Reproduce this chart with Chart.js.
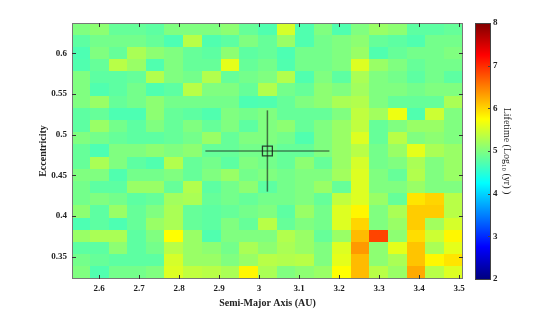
<!DOCTYPE html>
<html>
<head>
<meta charset="utf-8">
<script src="https://cdn.jsdelivr.net/npm/chart.js@4"></script>
<style>
  html, body { margin: 0; padding: 0; background: #fff; }
  #wrap { width: 556px; height: 314px; }
</style>
</head>
<body>
<div id="wrap"><canvas id="heat-map"></canvas></div>
<script>
// cell centres
var semiMajorAxis = [2.556, 2.602, 2.649, 2.695, 2.742, 2.788, 2.835, 2.881, 2.928, 2.975, 3.021,
                     3.068, 3.114, 3.161, 3.207, 3.254, 3.300, 3.347, 3.393, 3.440, 3.487];
var eccentricity = [0.63, 0.615, 0.60, 0.585, 0.57, 0.555, 0.54, 0.525, 0.51, 0.495, 0.48,
                    0.465, 0.45, 0.435, 0.42, 0.405, 0.39, 0.375, 0.36, 0.345, 0.33];
// log10 lifetime (yr), one row per eccentricity (top row first)
var lifetime = [
  [5.0, 5.08, 4.85, 4.85, 4.8, 5.0, 5.0, 5.0, 5.08, 4.85, 4.72, 5.5, 4.72, 5.0, 4.72, 5.0, 5.15, 5.08, 4.8, 4.8, 4.85],
  [4.8, 4.93, 4.93, 4.93, 4.85, 4.7, 5.33, 4.72, 4.8, 5.0, 4.85, 5.15, 4.72, 4.93, 5.0, 5.08, 4.85, 4.8, 4.72, 4.93, 4.93],
  [4.7, 5.0, 4.85, 5.25, 5.08, 5.0, 4.85, 4.8, 5.08, 4.8, 4.85, 4.7, 4.93, 4.93, 5.0, 5.15, 4.72, 4.85, 4.93, 4.93, 5.0],
  [4.72, 4.85, 5.33, 5.15, 4.72, 5.0, 4.85, 4.85, 5.6, 4.85, 4.93, 4.72, 4.93, 4.93, 5.0, 5.55, 5.15, 5.0, 4.85, 4.93, 4.93],
  [5.0, 4.8, 4.8, 4.85, 5.3, 5.0, 4.93, 5.3, 4.85, 4.93, 5.0, 5.3, 4.72, 5.0, 4.8, 5.25, 5.0, 4.93, 4.8, 4.93, 4.8],
  [5.0, 4.72, 4.8, 4.93, 4.72, 4.8, 5.33, 5.0, 5.0, 4.85, 5.3, 4.93, 4.85, 5.08, 5.0, 5.2, 5.0, 5.0, 4.93, 5.0, 5.0],
  [5.0, 5.15, 4.85, 4.93, 5.08, 4.93, 4.93, 4.93, 4.93, 4.7, 4.72, 4.85, 5.0, 5.08, 5.25, 5.3, 5.0, 4.85, 4.85, 4.85, 5.25],
  [4.8, 4.85, 4.7, 4.7, 5.08, 4.85, 4.8, 4.72, 5.0, 4.93, 5.0, 4.85, 4.85, 4.85, 5.0, 5.38, 5.2, 5.65, 4.72, 5.45, 5.0],
  [4.8, 5.15, 4.93, 4.8, 5.0, 4.85, 5.0, 4.85, 5.0, 4.8, 5.0, 5.08, 4.85, 5.0, 5.15, 5.38, 4.85, 5.0, 5.15, 5.15, 5.0],
  [5.0, 4.93, 4.85, 4.8, 4.8, 4.85, 4.93, 5.15, 4.85, 5.0, 5.0, 4.93, 4.72, 5.0, 5.15, 5.55, 4.85, 5.33, 5.0, 5.08, 5.0],
  [4.85, 4.7, 5.0, 5.0, 5.08, 5.0, 5.08, 4.85, 4.85, 4.93, 4.93, 4.85, 4.85, 5.0, 5.15, 5.33, 4.93, 5.15, 5.6, 5.25, 5.15],
  [4.85, 5.25, 5.0, 4.8, 4.72, 5.3, 4.85, 4.93, 4.8, 5.0, 4.93, 4.85, 5.08, 4.85, 5.15, 5.5, 4.93, 5.0, 5.25, 5.0, 5.15],
  [5.0, 5.0, 4.72, 4.93, 4.93, 5.0, 4.85, 5.0, 5.15, 4.93, 5.0, 4.93, 5.0, 5.0, 5.2, 5.55, 5.0, 4.85, 5.3, 5.0, 5.15],
  [4.93, 4.8, 4.8, 5.15, 5.15, 4.85, 5.3, 4.8, 4.93, 5.08, 4.8, 4.93, 5.0, 5.15, 4.85, 5.55, 5.0, 5.0, 5.15, 5.0, 5.0],
  [4.93, 5.0, 4.93, 4.8, 4.85, 5.2, 5.25, 4.85, 4.93, 4.85, 4.93, 4.93, 5.0, 4.85, 5.38, 5.55, 5.15, 4.85, 5.9, 6.0, 5.33],
  [5.08, 4.8, 5.15, 4.85, 5.0, 5.25, 4.85, 4.8, 4.85, 4.93, 5.0, 4.8, 5.15, 4.93, 5.55, 5.8, 5.0, 5.25, 6.05, 6.05, 5.33],
  [4.7, 4.8, 4.7, 4.85, 5.15, 5.25, 4.85, 4.8, 5.0, 4.85, 5.33, 4.85, 5.0, 4.93, 5.55, 6.0, 5.0, 5.15, 6.05, 5.2, 5.5],
  [5.15, 5.25, 5.25, 4.8, 5.0, 5.75, 5.15, 4.72, 5.0, 5.0, 5.0, 5.3, 5.15, 4.85, 5.15, 6.15, 6.85, 5.08, 5.95, 5.45, 5.8],
  [4.8, 4.8, 5.08, 4.8, 4.93, 5.33, 5.15, 5.08, 4.93, 5.25, 5.08, 5.25, 5.15, 5.0, 5.55, 6.35, 5.08, 5.6, 6.1, 5.25, 5.6],
  [4.93, 4.85, 4.8, 4.8, 4.8, 5.5, 5.15, 5.15, 5.0, 5.15, 5.33, 5.3, 5.33, 5.0, 5.6, 6.15, 5.08, 5.25, 6.1, 5.8, 5.9],
  [5.0, 4.72, 4.93, 4.93, 5.0, 5.55, 5.38, 5.33, 5.25, 5.8, 5.25, 5.0, 5.08, 5.15, 5.75, 6.15, 5.33, 5.15, 6.25, 5.33, 5.55]
];
// crosshair on the nominal orbit
var crossA = [2.866, 3.021, 3.176];
var crossE = [0.43, 0.48, 0.53];

var tickFont = { family: '"Liberation Serif", "DejaVu Serif", serif', size: 9, weight: 'bold' };
var titleFont = { family: '"Liberation Serif", "DejaVu Serif", serif', size: 10, weight: 'bold' };

function jet(v) {
    var t = (v - 2) / 6;
    t = Math.max(0, Math.min(1, t));
    function c(u) { return Math.round(255 * Math.max(0, Math.min(1, u))); }
    var r = c(1.5 - Math.abs(4 * t - 3));
    var g = c(1.5 - Math.abs(4 * t - 2));
    var b = c(1.5 - Math.abs(4 * t - 1));
    return 'rgb(' + r + ',' + g + ',' + b + ')';
}

function fmt(v) { return String(+v.toFixed(2)); }

var heatCells = {
    id: 'heatCells',
    beforeDatasetsDraw: function(chart) {
        var ctx = chart.ctx, xs = chart.scales.x, ys = chart.scales.y, a = chart.chartArea;
        var hx = (semiMajorAxis[1] - semiMajorAxis[0]) / 2;
        var hy = Math.abs(eccentricity[0] - eccentricity[1]) / 2;
        ctx.save();
        ctx.beginPath();
        ctx.rect(a.left, a.top, a.right - a.left, a.bottom - a.top);
        ctx.clip();
        for (var r = 0; r < eccentricity.length; r++) {
            for (var c = 0; c < semiMajorAxis.length; c++) {
                var x0 = xs.getPixelForValue(semiMajorAxis[c] - hx);
                var x1 = xs.getPixelForValue(semiMajorAxis[c] + hx);
                var y0 = ys.getPixelForValue(eccentricity[r] + hy);
                var y1 = ys.getPixelForValue(eccentricity[r] - hy);
                ctx.fillStyle = jet(lifetime[r][c]);
                ctx.fillRect(Math.floor(x0), Math.floor(y0), Math.ceil(x1) - Math.floor(x0), Math.ceil(y1) - Math.floor(y0));
            }
        }
        ctx.restore();
    },
    afterDraw: function(chart) {
        var ctx = chart.ctx, a = chart.chartArea;
        var xs = chart.scales.x, ys = chart.scales.y, cb = chart.scales.cb;
        ctx.save();
        // frame
        ctx.strokeStyle = '#777';
        ctx.lineWidth = 1;
        ctx.strokeRect(Math.round(a.left) + 0.5, Math.round(a.top) + 0.5,
                       Math.round(a.right - a.left) - 1, Math.round(a.bottom - a.top) - 1);
        // inward ticks
        ctx.strokeStyle = '#333';
        ctx.beginPath();
        xs.ticks.forEach(function(t) {
            var px = Math.round(xs.getPixelForValue(t.value)) + 0.5;
            ctx.moveTo(px, a.bottom); ctx.lineTo(px, a.bottom - 4);
            ctx.moveTo(px, a.top); ctx.lineTo(px, a.top + 4);
        });
        ys.ticks.forEach(function(t) {
            var py = Math.round(ys.getPixelForValue(t.value)) + 0.5;
            ctx.moveTo(a.left, py); ctx.lineTo(a.left + 4, py);
            ctx.moveTo(a.right, py); ctx.lineTo(a.right - 4, py);
        });
        ctx.stroke();
        // colour bar
        var bx0 = Math.round(a.right + 12), bx1 = Math.round(a.right + 28);
        var top = cb.getPixelForValue(8), bot = cb.getPixelForValue(2);
        var grad = ctx.createLinearGradient(0, bot, 0, top);
        for (var i = 0; i <= 64; i++) {
            grad.addColorStop(i / 64, jet(2 + 6 * i / 64));
        }
        ctx.fillStyle = grad;
        ctx.fillRect(bx0, top, bx1 - bx0, bot - top);
        ctx.strokeStyle = '#444';
        ctx.strokeRect(bx0 + 0.5, Math.round(top) + 0.5, bx1 - bx0 - 1, Math.round(bot - top));
        ctx.beginPath();
        cb.ticks.forEach(function(t) {
            var py = Math.round(cb.getPixelForValue(t.value)) + 0.5;
            ctx.moveTo(bx1, py); ctx.lineTo(bx1 - 3, py);
        });
        ctx.stroke();
        ctx.restore();
    }
};

var ctx = document.getElementById('heat-map').getContext('2d');
var heatMap = new Chart(ctx, {
    type: 'scatter',
    data: {
        datasets: [
            {
                data: [{ x: crossA[0], y: crossE[1] }, { x: crossA[2], y: crossE[1] }],
                showLine: true,
                borderColor: 'rgba(20,20,20,0.8)',
                borderWidth: 1.2,
                pointRadius: 0,
                xAxisID: 'x', yAxisID: 'y'
            },
            {
                data: [{ x: crossA[1], y: crossE[0] }, { x: crossA[1], y: crossE[2] }],
                showLine: true,
                borderColor: 'rgba(30,40,30,0.65)',
                borderWidth: 1.5,
                pointRadius: 0,
                xAxisID: 'x', yAxisID: 'y'
            },
            {
                data: [{ x: crossA[1], y: crossE[1] }],
                pointStyle: 'rect',
                pointRadius: 7,
                pointBorderWidth: 1.3,
                pointBorderColor: 'rgba(20,20,20,0.8)',
                pointBackgroundColor: 'rgba(0,0,0,0)',
                xAxisID: 'x', yAxisID: 'y'
            }
        ]
    },
    options: {
        responsive: true,
        maintainAspectRatio: false,
        animation: false,
        events: [],
        layout: { padding: { top: 23, left: 0, right: 0, bottom: 0 } },
        scales: {
            x: {
                type: 'linear',
                position: 'bottom',
                min: 2.5325,
                max: 3.51,
                grid: { display: false, drawTicks: false },
                border: { display: false },
                ticks: { stepSize: 0.1, includeBounds: false, callback: fmt, font: tickFont, color: '#222', padding: 4, maxRotation: 0 },
                title: { display: true, text: 'Semi-Major Axis (AU)', font: titleFont, color: '#222', padding: { top: 0, bottom: 5 } },
                afterFit: function(s) { s.height = 35; }
            },
            y: {
                type: 'linear',
                position: 'left',
                min: 0.3225,
                max: 0.6375,
                grid: { display: false, drawTicks: false },
                border: { display: false },
                ticks: { stepSize: 0.05, includeBounds: false, callback: fmt, font: tickFont, color: '#222', padding: 5 },
                title: { display: true, text: 'Eccentricity', font: titleFont, color: '#222', padding: { top: 37, bottom: 0 } },
                afterFit: function(s) { s.width = 72; }
            },
            cb: {
                type: 'linear',
                axis: 'y',
                position: 'right',
                min: 2,
                max: 8,
                grid: { display: false, drawTicks: true, tickLength: 30 },
                border: { display: false },
                ticks: { stepSize: 1, includeBounds: false, font: tickFont, color: '#222', padding: 0 },
                title: { display: true, text: 'Lifetime (Log\u2081\u2080 (yr) )', font: { family: '"Liberation Serif", serif', size: 10 }, color: '#222', padding: { top: 43, bottom: 0 } },
                afterFit: function(s) { s.width = 93; }
            }
        },
        plugins: {
            legend: { display: false },
            tooltip: { enabled: false }
        }
    },
    plugins: [heatCells]
});
</script>
</body>
</html>
